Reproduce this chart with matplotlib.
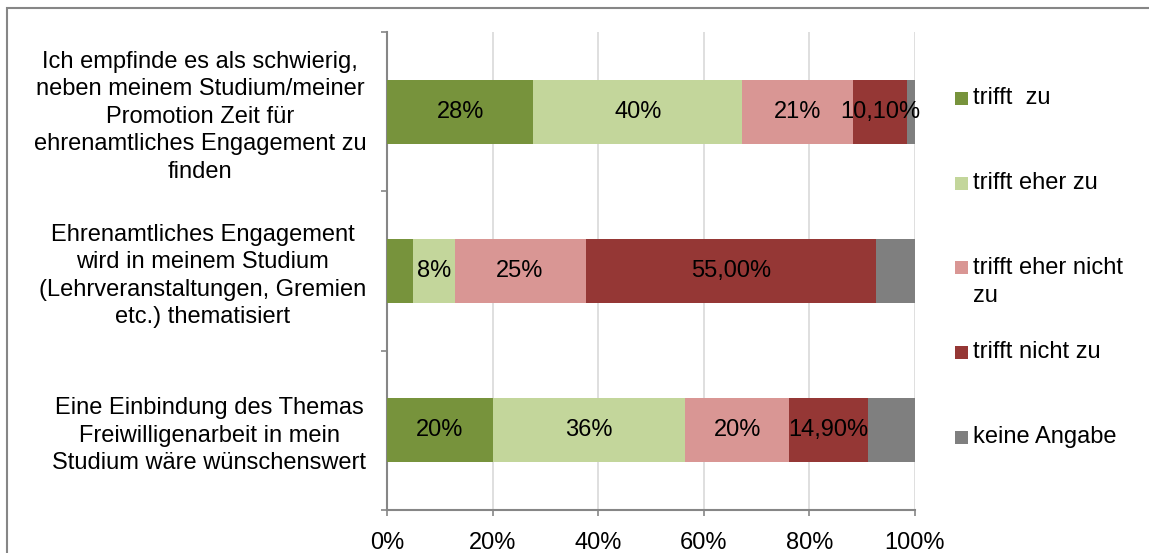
import matplotlib
matplotlib.use("Agg")
import matplotlib.pyplot as plt
from matplotlib.patches import Rectangle

# Survey statements (top to bottom)
statements = [
    "Ich empfinde es als schwierig,\nneben meinem Studium/meiner\nPromotion Zeit für\nehrenamtliches Engagement zu\nfinden",
    "Ehrenamtliches Engagement\nwird in meinem Studium\n(Lehrveranstaltungen, Gremien\netc.) thematisiert",
    "Eine Einbindung des Themas\nFreiwilligenarbeit in mein\nStudium wäre wünschenswert",
]

# Answer categories and their shares (percent), one value per statement
series_names = ["trifft  zu", "trifft eher zu", "trifft eher nicht\nzu", "trifft nicht zu", "keine Angabe"]
trifft_zu = [27.7, 4.9, 20.0]
trifft_eher_zu = [39.6, 7.9, 36.4]
trifft_eher_nicht_zu = [21.0, 24.8, 19.8]
trifft_nicht_zu = [10.1, 55.0, 14.9]
keine_angabe = [1.6, 7.4, 8.9]
series_values = [trifft_zu, trifft_eher_zu, trifft_eher_nicht_zu, trifft_nicht_zu, keine_angabe]

# Number of decimals shown in the data labels of each series (None = no labels)
label_decimals = [0, 0, 0, 2, None]
min_labelled_share = 6.0

x_ticks = [0, 20, 40, 60, 80, 100]

colors = ["#77933C", "#C3D69B", "#D99694", "#953735", "#7F7F7F"]
axis_gray = "#868686"
grid_gray = "#D9D9D9"
FONT = "Liberation Sans"
FS = 17
LS = 1.32

W, H = 1149, 553
plt.rcParams["font.family"] = [FONT, "DejaVu Sans"]
fig = plt.figure(figsize=(W / 100, H / 100), dpi=100)
fig.patch.set_facecolor("white")


def fx(px):
    return px / W


def fy(py):
    return 1 - py / H


# plot area
ax = fig.add_axes([fx(387), fy(510), fx(915) - fx(387), fy(32) - fy(510)])

n = len(statements)
ypos = [n - 0.5 - i for i in range(n)]
bar_h = 0.4

left = [0.0] * n
for vals, col, dec in zip(series_values, colors, label_decimals):
    ax.barh(ypos, vals, left=left, height=bar_h, color=col, edgecolor="none", zorder=3)
    if dec is not None:
        for y, l, v in zip(ypos, left, vals):
            if v < min_labelled_share:
                continue
            txt = f"{v:.{dec}f}%".replace(".", ",")
            ax.text(l + v / 2, y, txt, ha="center", va="center", fontsize=FS,
                    color="black", zorder=4)
    left = [a + b for a, b in zip(left, vals)]

ax.set_xlim(0, 100)
ax.set_ylim(0, n)
ax.set_xticks(x_ticks)
ax.set_xticklabels([f"{t}%" for t in x_ticks], fontsize=FS)
ax.xaxis.grid(True, color=grid_gray, linewidth=1.2, zorder=0)
ax.set_axisbelow(True)

# category boundaries as major ticks, labels on minor ticks at bar centres
ax.set_yticks(range(n + 1))
ax.set_yticklabels([""] * (n + 1))
ax.set_yticks(ypos, minor=True)
ax.set_yticklabels(statements, minor=True, fontsize=FS, ha="right",
                   multialignment="center", linespacing=LS)
ax.tick_params(axis="y", which="minor", length=0, pad=15)
ax.tick_params(axis="y", which="major", length=4.5, width=1.2, color=axis_gray, direction="out")
ax.tick_params(axis="x", length=4.5, width=1.2, color=axis_gray, direction="out", pad=11)

for side in ("top", "right"):
    ax.spines[side].set_visible(False)
for side in ("left", "bottom"):
    ax.spines[side].set_color(axis_gray)
    ax.spines[side].set_linewidth(1.5)

# legend
legend_rows = [98, 183, 267, 352, 437]
for name, col, yc in zip(series_names, colors, legend_rows):
    fig.patches.append(Rectangle((fx(955), fy(yc + 6.5)), 13 / W, 13 / H,
                                 transform=fig.transFigure, facecolor=col,
                                 edgecolor="none"))
    fig.text(fx(973), fy(yc - 10.5), name, ha="left", va="top", fontsize=FS,
             linespacing=1.38)

# chart frame
fig.patches.append(Rectangle((fx(7), fy(H + 20)), 1.2, fy(8) - fy(H + 20),
                             transform=fig.transFigure, facecolor="none",
                             edgecolor=axis_gray, linewidth=1.5))

fig.savefig("out.png", dpi=100, facecolor="white")
